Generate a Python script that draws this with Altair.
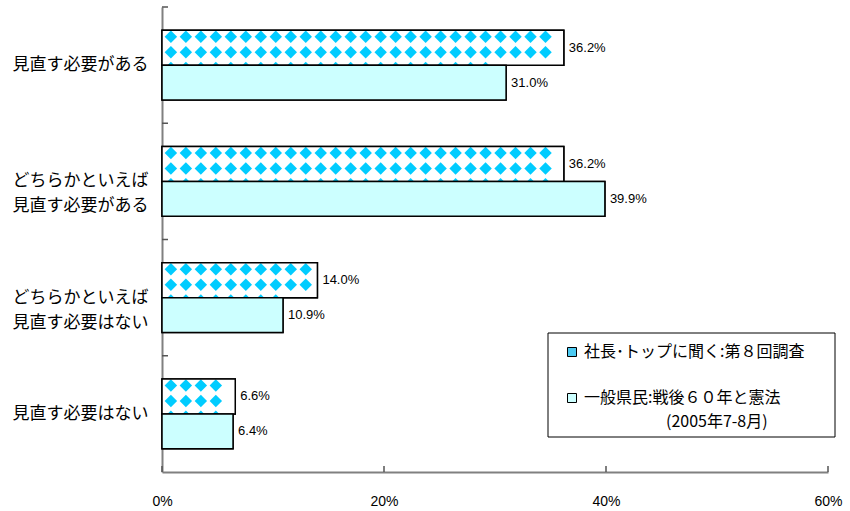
import altair as alt
import pandas as pd

categories = ["見直す必要がある", "どちらかといえば|見直す必要がある",
              "どちらかといえば|見直す必要はない", "見直す必要はない"]
series_names = ["社長･トップに聞く:第８回調査", "一般県民:戦後６０年と憲法"]
series2_note = ["(2005年7-8月)"]
ceo_values = [36.2, 36.2, 14.0, 6.6]
public_values = [31.0, 39.9, 10.9, 6.4]
x_ticks = [0, 20, 40, 60]

rows = []
for c, a, b in zip(categories, ceo_values, public_values):
    rows.append({"cat": c, "series": series_names[0], "value": a})
    rows.append({"cat": c, "series": series_names[1], "value": b})
df = pd.DataFrame(rows)

# diamond pattern positions derived from the first series' values
p_start, p_step = 0.8, 1.35
pat = []
for c, v, w in zip(categories, ceo_values, public_values):
    k = 0
    while p_start + k * p_step <= v - 0.55:
        px = p_start + k * p_step
        # lowest (partial) row only where the bar below hides its lower half
        pat.append({"cat": c, "px": px, "low": px <= w - 0.6})
        k += 1
pat_df = pd.DataFrame(pat)

W, H = 666, 465
FONT_JP = "Noto Sans CJK JP"
FONT_NUM = "Liberation Sans"

y_scale = alt.Scale(domain=categories, paddingInner=0.4, paddingOuter=0.2)
x_scale = alt.Scale(domain=[0, 60], nice=False)
yoff = alt.YOffset("series:N", scale=alt.Scale(domain=series_names, paddingInner=0, paddingOuter=0))

y_enc = alt.Y("cat:N", scale=y_scale, sort=categories,
              axis=alt.Axis(title=None, labelExpr="split(datum.label, '|')",
                            labelAlign="center", labelBaseline="middle",
                            labelPadding=82, ticks=False,
                            labelFont=FONT_JP, labelFontSize=17, labelLineHeight=25,
                            labelColor="#000000", labelLimit=400,
                            domainColor="#808080", domainWidth=2))
x_enc = alt.X("value:Q", scale=x_scale,
              axis=alt.Axis(title=None, values=x_ticks, labelExpr="datum.value + '%'",
                            grid=False, ticks=False, labelPadding=22, labelFlush=False,
                            labelFont=FONT_NUM, labelFontSize=14, labelColor="#000000",
                            domainColor="#808080", domainWidth=2))

base = alt.Chart(df)

# legend frame (drawn under the legend)
legend_box = alt.Chart(pd.DataFrame({"k": [0]})).mark_rect(
    fill="white", stroke="black", strokeWidth=1).encode(
    x=alt.value(386), x2=alt.value(673), y=alt.value(326), y2=alt.value(430))

bars = base.mark_bar(stroke="black", strokeWidth=1.5).encode(
    x=x_enc, y=y_enc, yOffset=yoff,
    color=alt.Color("series:N", sort=series_names,
                    scale=alt.Scale(domain=series_names, range=["#4CCAF2", "#CCFFFF"]),
                    legend=alt.Legend(
                        title=None, orient="none", legendX=402, legendY=337,
                        padding=0, symbolType="square", symbolSize=81,
                        symbolStrokeColor="black", symbolStrokeWidth=1,
                        labelFont=FONT_JP, labelFontSize=16, labelColor="#000000",
                        labelOffset=4, rowPadding=30, labelLimit=400)),
)

ceo = base.transform_filter(alt.datum.series == series_names[0])
pub = base.transform_filter(alt.datum.series == series_names[1])

white_fill = ceo.mark_bar(fill="white", strokeWidth=0).encode(
    x="value:Q", y=alt.Y("cat:N", sort=categories), yOffset=yoff)

diamond_layers = []
for r in [-28.4, -12.8, 2.8]:
    src = alt.Chart(pat_df)
    if r > 0:
        src = src.transform_filter(alt.datum.low)
    diamond_layers.append(
        src.mark_point(shape="diamond", filled=True, size=155,
                       color="#00CCFF", opacity=1, yOffset=r).encode(
            x="px:Q", y=alt.Y("cat:N", sort=categories)))

ceo_outline = ceo.mark_bar(fill="white", fillOpacity=0, stroke="black", strokeWidth=1.5).encode(
    x="value:Q", y=alt.Y("cat:N", sort=categories), yOffset=yoff)
pub_bar = pub.mark_bar(fill="#CCFFFF", stroke="black", strokeWidth=1.5).encode(
    x="value:Q", y=alt.Y("cat:N", sort=categories), yOffset=yoff)

labels = base.transform_calculate(lbl="format(datum.value, '.1f') + '%'").mark_text(
    align="left", baseline="middle", dx=5, font=FONT_NUM,
    fontSize=13, color="#000000").encode(
    x="value:Q", y=alt.Y("cat:N", sort=categories), yOffset=yoff, text="lbl:N")

note = alt.Chart(pd.DataFrame({"t": series2_note})).mark_text(
    align="left", baseline="middle", font=FONT_JP, fontSize=16, color="#000000").encode(
    x=alt.value(504), y=alt.value(415), text="t:N")

tick_df = pd.DataFrame({"t": x_ticks})
x_tick_rules = alt.Chart(tick_df).mark_rule(color="#555555", strokeWidth=1.5).encode(
    x=alt.X("t:Q", scale=x_scale), y=alt.value(H - 6), y2=alt.value(H))

cat_df = pd.DataFrame({"cat": categories})
y_tick_rules = alt.Chart(cat_df).mark_rule(color="#555555", strokeWidth=1.5, yOffset=-23.25).encode(
    y=alt.Y("cat:N", sort=categories, bandPosition=0), x=alt.value(0), x2=alt.value(6))

chart = alt.layer(
    bars, white_fill, *diamond_layers, ceo_outline, pub_bar, labels,
    x_tick_rules, y_tick_rules, legend_box, note
).properties(
    width=W, height=H,
    autosize=alt.AutoSizeParams(type="none"),
    padding={"left": 162, "top": 7, "right": 22, "bottom": 39},
    background="white",
).configure_view(stroke=None)

chart.save("out.html", embed_options={"renderer": "svg", "actions": False})
